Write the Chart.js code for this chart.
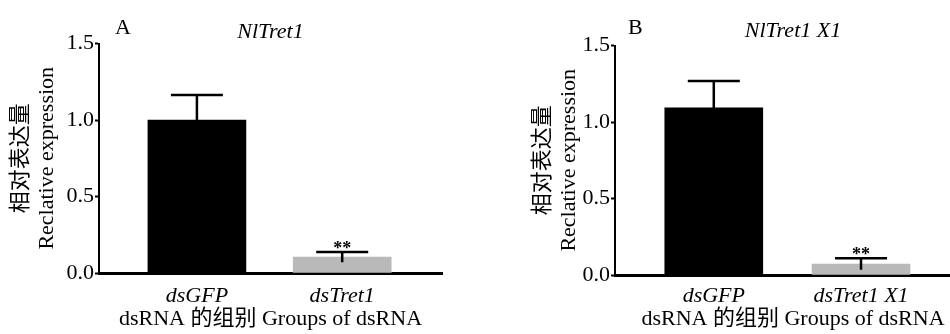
<!DOCTYPE html>
<html>
<head>
<meta charset="utf-8">
<script src="https://cdn.jsdelivr.net/npm/chart.js@4.4.1/dist/chart.umd.min.js"></script>
<style>
  html, body { margin: 0; padding: 0; background: #fff; width: 950px; height: 334px; overflow: hidden; position: relative; }
  .panel { position: absolute; top: 0; }
</style>
</head>
<body>
<div class="panel" style="left:0"><canvas id="chartA" width="475" height="334"></canvas></div>
<div class="panel" style="left:475px"><canvas id="chartB" width="525" height="334"></canvas></div>
<script>
// data
const categoriesA = ['dsGFP', 'dsTret1'];
const valuesA = [1.0, 0.104];
const errorsA = [0.163, 0.033];
const marksA = ['', '**'];

const categoriesB = ['dsGFP', 'dsTret1 X1'];
const valuesB = [1.092, 0.072];
const errorsB = [0.176, 0.038];
const marksB = ['', '**'];

const yTicks = [0, 0.5, 1.0, 1.5];
const barColors = ['#000000', '#b9b9b9'];
const yTitle = ['相对表达量', 'Reclative expression'];
const xTitle = 'dsRNA 的组别 Groups of dsRNA';

const SERIF = "'Liberation Serif', 'Noto Sans CJK SC', serif";
Chart.defaults.color = '#000';
Chart.defaults.font.family = SERIF;

// error bars, significance stars and panel letter
const errorBars = {
  id: 'errorBars',
  afterDatasetsDraw(chart, args, o) {
    const { ctx, chartArea } = chart;
    const x = chart.scales.x, y = chart.scales.y;
    ctx.save();
    ctx.strokeStyle = '#000';
    ctx.fillStyle = '#000';
    o.values.forEach((v, i) => {
      const px = x.getPixelForValue(i);
      const top = y.getPixelForValue(v + o.errors[i]);
      const low = y.getPixelForValue(Math.max(0, v - o.errors[i]));
      ctx.lineWidth = 2.5;
      ctx.beginPath();
      ctx.moveTo(px, low);
      ctx.lineTo(px, top);
      ctx.moveTo(px - o.cap, top);
      ctx.lineTo(px + o.cap, top);
      ctx.stroke();
      if (o.marks[i]) {
        ctx.font = 'bold 18px ' + SERIF;
        ctx.textAlign = 'center';
        ctx.textBaseline = 'alphabetic';
        ctx.fillText(o.marks[i], px, top + 2);
      }
    });
    ctx.font = '22px ' + SERIF;
    ctx.textAlign = 'left';
    ctx.textBaseline = 'middle';
    ctx.fillText(o.letter, chartArea.left + o.letterDx, 28);
    ctx.restore();
  }
};

function makeChart(id, cats, vals, errs, marks, cfg) {
  const points = vals.map((v, i) => ({ x: i, y: v }));
  return new Chart(document.getElementById(id), {
    type: 'bar',
    data: {
      datasets: [{
        data: points,
        backgroundColor: barColors,
        borderWidth: 0,
        barThickness: 98,
      }],
    },
    plugins: [errorBars],
    options: {
      responsive: false,
      animation: false,
      layout: { padding: { left: cfg.padLeft, right: cfg.padRight, top: 0, bottom: 0 } },
      plugins: {
        legend: { display: false },
        tooltip: { enabled: false },
        title: {
          display: true,
          text: cfg.title,
          fullSize: false,
          font: { family: SERIF, size: 22, style: 'italic', weight: 'normal', lineHeight: 1 },
          padding: { top: cfg.titleTop, bottom: cfg.titleBottom },
        },
        errorBars: {
          values: vals, errors: errs, marks: marks,
          cap: 26, letter: cfg.letter, letterDx: cfg.letterDx,
        },
      },
      scales: {
        x: {
          type: 'linear',
          offset: false,
          min: cfg.xMin,
          max: cfg.xMax,
          afterBuildTicks: s => { s.ticks = cats.map((c, i) => ({ value: i })); },
          afterFit: s => { s.height = cfg.xHeight; },
          ticks: {
            callback: v => cats[v],
            font: { family: SERIF, size: 22, style: 'italic' },
            padding: cfg.xTickPad,
            maxRotation: 0,
            autoSkip: false,
          },
          grid: { offset: false, drawOnChartArea: false, drawTicks: false },
          border: { color: '#000', width: 3 },
          title: {
            display: true,
            text: xTitle,
            font: { family: SERIF, size: 22 },
            padding: { top: 0, bottom: 2 },
          },
        },
        y: {
          min: 0,
          max: 1.5,
          afterBuildTicks: s => { s.ticks = yTicks.map(v => ({ value: v })); },
          afterFit: s => { s.width = cfg.yWidth; },
          ticks: {
            callback: v => v.toFixed(1),
            font: { family: SERIF, size: 22 },
            padding: 1,
          },
          grid: { drawOnChartArea: false, drawTicks: true, tickLength: 4, tickColor: '#000', tickWidth: 2 },
          border: { color: '#000', width: 2 },
          title: {
            display: true,
            text: yTitle,
            font: { family: SERIF, size: 22, lineHeight: 1.2 },
            padding: { top: 8, bottom: 0 },
          },
        },
      },
    },
  });
}

makeChart('chartA', categoriesA, valuesA, errorsA, marksA, {
  title: 'NlTret1', letter: 'A', letterDx: 16,
  padLeft: 0, padRight: 33, yWidth: 99,
  titleTop: 21.5, titleBottom: 0,
  xMin: -0.674, xMax: 1.687, xHeight: 61, xTickPad: 10,
});

makeChart('chartB', categoriesB, valuesB, errorsB, marksB, {
  title: 'NlTret1 X1', letter: 'B', letterDx: 13,
  padLeft: 47, padRight: 29, yWidth: 93,
  titleTop: 20, titleBottom: 3.5,
  xMin: -0.671, xMax: 1.747, xHeight: 59, xTickPad: 8,
});
</script>
</body>
</html>
